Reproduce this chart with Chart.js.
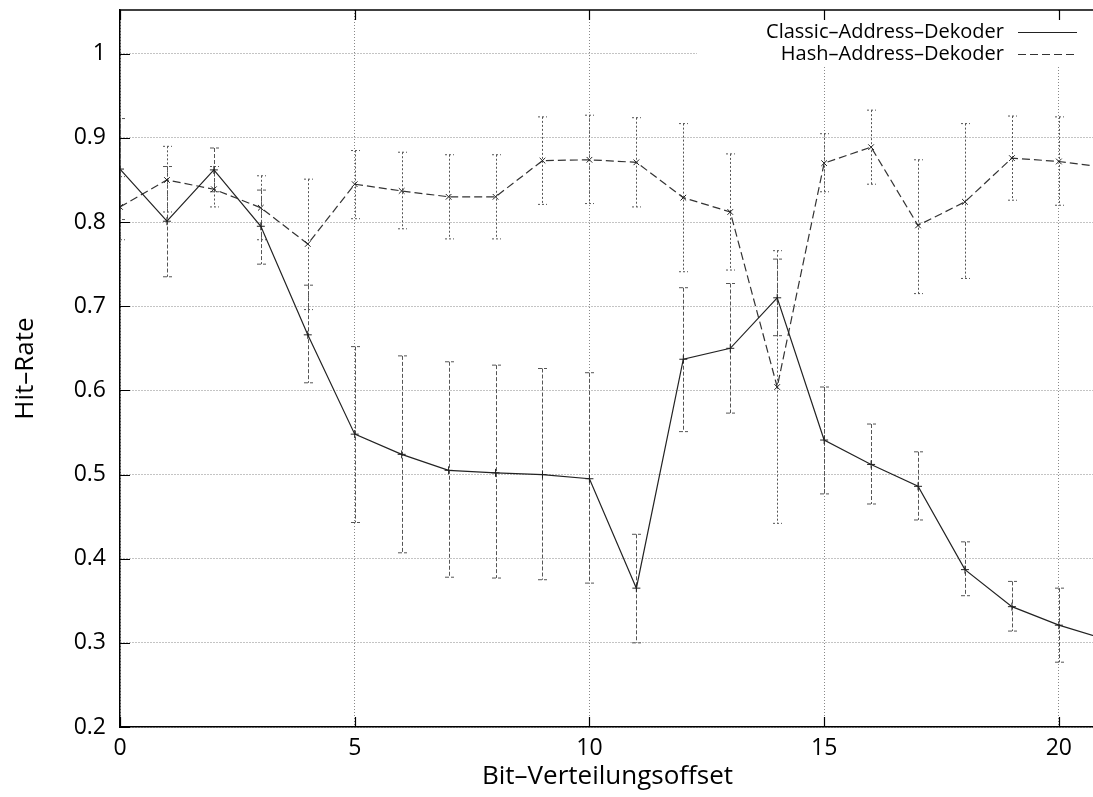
<!DOCTYPE html>
<html>
<head>
<meta charset="utf-8">
<script src="https://cdn.jsdelivr.net/npm/chart.js@4.4.1/dist/chart.umd.min.js"></script>
<style>
  html, body { margin: 0; padding: 0; background: #fff; overflow: hidden; width: 1093px; height: 797px; }
  #c { display: block; }
</style>
</head>
<body>
<canvas id="c" width="1100" height="797"></canvas>
<script>
// ---- data ----
const offsets = [0,1,2,3,4,5,6,7,8,9,10,11,12,13,14,15,16,17,18,19,20,21];

const classicLabel = "Classic\u2013Address\u2013Dekoder";
const classicRate  = [0.863,0.801,0.862,0.795,0.666,0.548,0.524,0.505,0.502,0.500,0.495,0.365,0.637,0.650,0.710,0.541,0.512,0.486,0.387,0.343,0.321,0.304];
const classicHigh  = [0.923,0.866,0.888,0.838,0.725,0.652,0.641,0.634,0.630,0.626,0.621,0.429,0.722,0.727,0.756,0.604,0.560,0.527,0.420,0.373,0.365,null];
const classicLow   = [0.803,0.735,0.836,0.750,0.609,0.443,0.407,0.378,0.377,0.375,0.371,0.300,0.551,0.573,0.665,0.477,0.465,0.446,0.356,0.314,0.277,null];

const hashLabel = "Hash\u2013Address\u2013Dekoder";
const hashRate  = [0.818,0.850,0.839,0.817,0.774,0.845,0.837,0.830,0.830,0.873,0.874,0.871,0.829,0.812,0.604,0.870,0.889,0.796,0.824,0.876,0.872,0.865];
const hashHigh  = [0.854,0.890,0.866,0.855,0.851,0.885,0.883,0.880,0.880,0.925,0.927,0.924,0.917,0.881,0.766,0.905,0.933,0.874,0.917,0.926,0.925,null];
const hashLow   = [0.779,0.812,0.818,0.779,0.696,0.804,0.792,0.780,0.780,0.821,0.822,0.818,0.741,0.743,0.442,0.836,0.845,0.715,0.733,0.826,0.820,null];

const xTitle = "Bit\u2013Verteilungsoffset";
const yTitle = "Hit\u2013Rate";
const xMin = 0, xMax = 20.77, xStep = 5;
const yMin = 0.2, yMax = 1.052, yStep = 0.1;

// ---- build points ----
const toPts = (vals) => offsets.map((x, i) => ({ x: x, y: vals[i] }));

const FONT = "'Open Sans', 'DejaVu Sans', sans-serif";

// error bars, top border, mirrored ticks and the in-plot legend
const gnuplotDecor = {
  id: 'gnuplotDecor',
  beforeDatasetsDraw(chart) {
    const { ctx, chartArea: a, scales: { x, y } } = chart;
    ctx.save();
    // legend box background (hides grid)
    ctx.fillStyle = '#fff';
    ctx.fillRect(697, a.top + 1, a.right - 697 + 2, 65 - a.top - 1);
    ctx.restore();

    // error bars
    ctx.save();
    ctx.beginPath();
    ctx.rect(a.left, a.top, a.right - a.left, a.bottom - a.top);
    ctx.clip();
    chart.data.datasets.forEach((ds) => {
      if (!ds.errLow) return;
      ctx.strokeStyle = ds.errColor;
      ctx.lineWidth = 1;
      ctx.setLineDash(ds.errDash);
      ds.data.forEach((p, i) => {
        const lo = ds.errLow[i], hi = ds.errHigh[i];
        if (lo == null || hi == null) return;
        const px = Math.round(x.getPixelForValue(p.x)) + 0.5;
        const pl = y.getPixelForValue(lo), ph = y.getPixelForValue(hi);
        ctx.beginPath();
        ctx.moveTo(px, ph); ctx.lineTo(px, pl);
        ctx.moveTo(px - 4.5, ph); ctx.lineTo(px + 4.5, ph);
        ctx.moveTo(px - 4.5, pl); ctx.lineTo(px + 4.5, pl);
        ctx.stroke();
      });
    });
    ctx.restore();
  },
  afterDraw(chart) {
    const { ctx, chartArea: a, scales: { x, y } } = chart;
    ctx.save();
    ctx.strokeStyle = '#000';
    ctx.lineWidth = 1.5;
    // top border
    ctx.beginPath();
    ctx.moveTo(a.left, a.top); ctx.lineTo(a.right, a.top);
    ctx.stroke();
    // inward ticks
    ctx.lineWidth = 1.2;
    ctx.beginPath();
    y.ticks.forEach(t => {
      const py = Math.round(y.getPixelForValue(t.value)) + 0.5;
      ctx.moveTo(a.left, py); ctx.lineTo(a.left + 10, py);
    });
    x.ticks.forEach(t => {
      const px = Math.round(x.getPixelForValue(t.value)) + 0.5;
      ctx.moveTo(px, a.bottom); ctx.lineTo(px, a.bottom - 10);
      ctx.moveTo(px, a.top); ctx.lineTo(px, a.top + 10);
    });
    ctx.stroke();

    // legend (right-aligned text, sample line to the right)
    ctx.font = "20px " + FONT;
    ctx.fillStyle = '#000';
    ctx.textAlign = 'right';
    ctx.textBaseline = 'middle';
    chart.data.datasets.forEach((ds, i) => {
      const ly = 32 + i * 22;
      ctx.fillText(ds.label, 1004, ly);
      ctx.strokeStyle = ds.borderColor;
      ctx.lineWidth = 1.2;
      ctx.setLineDash(ds.borderDash || []);
      ctx.beginPath();
      ctx.moveTo(1018, ly + 0.5); ctx.lineTo(1077, ly + 0.5);
      ctx.stroke();
    });
    ctx.restore();
  }
};

const fmt = (v) => String(Number(v.toFixed(2)));

new Chart(document.getElementById('c'), {
  type: 'scatter',
  data: {
    datasets: [
      {
        label: classicLabel,
        data: toPts(classicRate),
        errLow: classicLow, errHigh: classicHigh,
        errDash: [4, 2], errColor: '#555',
        showLine: true,
        borderColor: '#222',
        borderWidth: 1.2,
        pointStyle: 'cross',
        pointRadius: 4,
        pointBorderWidth: 1,
        pointBorderColor: '#222',
        pointBackgroundColor: '#222',
        tension: 0
      },
      {
        label: hashLabel,
        data: toPts(hashRate),
        errLow: hashLow, errHigh: hashHigh,
        errDash: [2, 2], errColor: '#555',
        showLine: true,
        borderColor: '#333',
        borderWidth: 1.2,
        borderDash: [8, 4],
        pointStyle: 'crossRot',
        pointRadius: 4,
        pointBorderWidth: 1,
        pointBorderColor: '#222',
        pointBackgroundColor: '#222',
        tension: 0
      }
    ]
  },
  options: {
    responsive: false,
    animation: false,
    devicePixelRatio: 1,
    layout: { padding: { top: 10, left: 0, right: 0, bottom: 0 } },
    plugins: { legend: { display: false }, tooltip: { enabled: false } },
    scales: {
      x: {
        type: 'linear',
        min: xMin, max: xMax,
        ticks: { stepSize: xStep, includeBounds: false, padding: 8, color: '#000', font: { family: FONT, size: 23 }, callback: fmt },
        grid: { color: '#888', lineWidth: 1, drawTicks: false },
        border: { display: true, color: '#000', width: 1.5, dash: [1, 2] },
        title: { display: true, text: xTitle, color: '#000', font: { family: FONT, size: 26 }, padding: { top: 0, bottom: 5 } },
        afterFit(s) { s.height = 70; s.paddingLeft = 0; s.paddingRight = 0; }
      },
      y: {
        type: 'linear',
        min: yMin, max: yMax,
        ticks: { stepSize: yStep, includeBounds: false, padding: 14, color: '#000', font: { family: FONT, size: 23 }, callback: fmt },
        grid: { color: '#888', lineWidth: 1, drawTicks: false },
        border: { display: true, color: '#000', width: 1.5, dash: [1, 2] },
        title: { display: true, text: yTitle, color: '#000', font: { family: FONT, size: 26 }, padding: { top: 10, bottom: 0 } },
        afterFit(s) { s.width = 120; s.paddingTop = 0; s.paddingBottom = 0; }
      }
    }
  },
  plugins: [gnuplotDecor]
});
</script>
</body>
</html>
